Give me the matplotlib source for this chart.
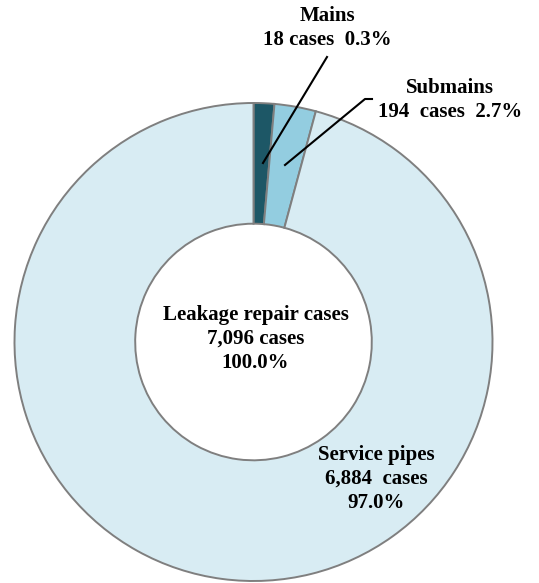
import matplotlib.pyplot as plt

# data
categories = ['Mains', 'Submains', 'Service pipes']
cases = [18, 194, 6884]
percent = [0.3, 2.7, 97.0]
# slice sizes as drawn in the picture (Mains is exaggerated there)
drawn_share = [1.4, 2.8, 95.8]
total_cases = 7096
colors = ['#1d5766', '#93cde0', '#d8ecf3']

plt.rcParams['font.family'] = ['Liberation Serif', 'DejaVu Serif']
plt.rcParams['font.weight'] = 'bold'

W, H = 539, 583
fig = plt.figure(figsize=(W / 100, H / 100), dpi=100)
ax = fig.add_axes([0, 0, 1, 1])

cx, cy, r = 253.5, H - 342, 239
ax.pie(drawn_share, colors=colors, startangle=90, counterclock=False,
       center=(cx, cy), radius=r, frame=True,
       wedgeprops=dict(width=r * 0.505, edgecolor='#7f7f7f', linewidth=1.4))
ax.set_xlim(0, W)
ax.set_ylim(0, H)
ax.set_aspect('equal')
ax.axis('off')

fs = 15
ls = 1.27
# centre label
ax.text(cx + 2, H - 339, 'Leakage repair cases\n%s cases\n%.1f%%' % (f'{total_cases:,}', 100.0),
        ha='center', va='center', fontsize=fs, fontweight='bold', linespacing=ls)

# service pipes label
ax.text(376, H - 479, '%s\n%s  cases\n%.1f%%' % (categories[2], f'{cases[2]:,}', percent[2]),
        ha='center', va='center', fontsize=fs, fontweight='bold', linespacing=ls)

# mains label
ax.text(327, H - 28, '%s\n%d cases  %.1f%%' % (categories[0], cases[0], percent[0]),
        ha='center', va='center', fontsize=fs, fontweight='bold', linespacing=ls)
ax.plot([327, 263], [H - 57, H - 163], color='black', lw=1.5)

# submains label
ax.text(450, H - 100, '%s\n%d  cases  %.1f%%' % (categories[1], cases[1], percent[1]),
        ha='center', va='center', fontsize=fs, fontweight='bold', linespacing=ls)
ax.plot([372, 365, 285], [H - 99, H - 99, H - 165], color='black', lw=1.5)

fig.savefig('out.png', dpi=100)
